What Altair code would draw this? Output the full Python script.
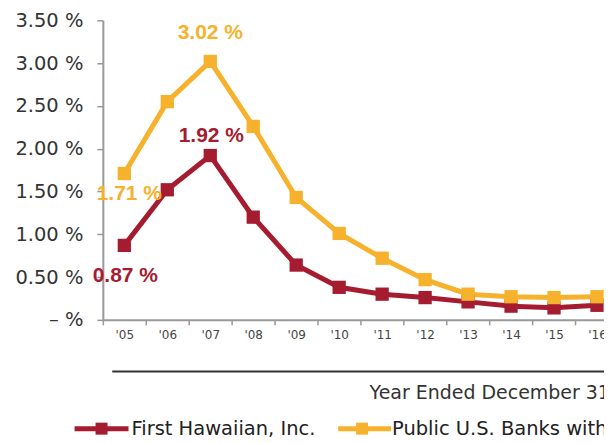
import altair as alt
import pandas as pd

# ---- data ----
years = ["'05", "'06", "'07", "'08", "'09", "'10", "'11", "'12", "'13", "'14", "'15", "'16"]
first_hawaiian = [0.87, 1.52, 1.92, 1.20, 0.64, 0.38, 0.30, 0.26, 0.21, 0.16, 0.14, 0.17]
peer_banks = [1.71, 2.55, 3.02, 2.26, 1.43, 1.01, 0.72, 0.47, 0.30, 0.27, 0.26, 0.27]
series_names = ["First Hawaiian, Inc.", "Public U.S. Banks with $10 \u2013 $50 Billion in Assets"]
series_colors = ["#A51C30", "#F6B12D"]
y_ticks = [0.0, 0.5, 1.0, 1.5, 2.0, 2.5, 3.0, 3.5]
x_title = "Year Ended December 31"

rows = []
for name, vals in zip(series_names, [first_hawaiian, peer_banks]):
    for yr, v in zip(years, vals):
        rows.append({"year": yr, "series": name, "value": v, "label": f"{v:.2f} %"})
df = pd.DataFrame(rows)

AXIS_FONT = "DejaVu Sans"

color = alt.Color("series:N", scale=alt.Scale(domain=series_names, range=series_colors), legend=None)

x_enc = alt.X(
    "year:O",
    sort=years,
    bandPosition=0.5,
    scale=alt.Scale(type="band", range=[0, 516.5], paddingInner=0, paddingOuter=0),
    axis=alt.Axis(
        tickBand="extent",
        labelAngle=0,
        labelFont=AXIS_FONT,
        labelFontSize=12,
        labelColor="#444444",
        labelPadding=5,
        tickSize=5,
        tickWidth=1.5,
        tickColor="#999999",
        domainColor="#999999",
        domainWidth=2,
        grid=False,
        title=x_title,
        titleFont=AXIS_FONT,
        titleFontSize=19,
        titleFontWeight="normal",
        titleColor="#333333",
        titleX=266.7,
        titleY=73,
        titleAlign="left",
        titleBaseline="middle",
        titleAnchor="start",
    ),
)

y_enc = alt.Y(
    "value:Q",
    scale=alt.Scale(domain=[0, 3.5], nice=False, zero=True),
    axis=alt.Axis(
        values=y_ticks,
        labelExpr="datum.value == 0 ? '\u2013 %' : format(datum.value, '.2f') + ' %'",
        labelFont=AXIS_FONT,
        labelFontSize=19.5,
        labelColor="#333333",
        labelPadding=14,
        tickSize=6,
        tickWidth=1.5,
        tickColor="#999999",
        domainColor="#999999",
        domainWidth=2,
        grid=False,
        title=None,
    ),
)

base = alt.Chart(df).encode(x=x_enc, y=y_enc, color=color)

lines = base.mark_line(strokeWidth=5)
points = base.mark_point(shape="square", filled=True, size=177, opacity=1)


def value_label(series_idx, year, dx, dy):
    return base.mark_text(
        font="Liberation Sans", fontWeight="bold", fontSize=21, dx=dx, dy=dy
    ).encode(text="label:N").transform_filter(
        (alt.datum.series == series_names[series_idx]) & (alt.datum.year == year)
    )


labels = [
    value_label(1, "'07", 0, -28),
    value_label(0, "'07", 1, -20),
    value_label(1, "'05", 5, 21),
    value_label(0, "'05", 1, 31),
]

# separator line above the axis title
sep = alt.Chart(alt.Data(values=[{"k": 1}])).mark_rule(
    color="#333333", strokeWidth=2
).encode(x=alt.value(9.4), x2=alt.value(530), y=alt.value(351.7))

# manual legend
legend_layers = []
leg_y = 409
leg_pos = [(-28.3, 25.7, -1.3, 28.7), (235.7, 288.7, 259.7, 289.7)]
for i, name in enumerate(series_names):
    ldf = pd.DataFrame({"series": [name]})
    lx1, lx2, sq, tx = leg_pos[i]
    legend_layers.append(
        alt.Chart(ldf).mark_rule(strokeWidth=5).encode(
            x=alt.value(lx1), x2=alt.value(lx2), y=alt.value(leg_y),
            color=alt.value(series_colors[i]),
        )
    )
    legend_layers.append(
        alt.Chart(ldf).mark_point(shape="square", filled=True, size=144, opacity=1).encode(
            x=alt.value(sq), y=alt.value(leg_y), color=alt.value(series_colors[i])
        )
    )
    legend_layers.append(
        alt.Chart(ldf).mark_text(
            font=AXIS_FONT, fontSize=19.5, align="left", baseline="middle", color="#222222"
        ).encode(x=alt.value(tx), y=alt.value(leg_y), text="series:N")
    )

chart = alt.layer(lines, points, *labels, sep, *legend_layers).properties(
    width=502,
    height=300,
    padding={"left": 95, "top": 12, "right": 0, "bottom": 123},
    autosize=alt.AutoSizeParams(type="none"),
    background="white",
).configure_view(stroke=None)

chart.save("out.html", embed_options={"renderer": "svg", "actions": False})
